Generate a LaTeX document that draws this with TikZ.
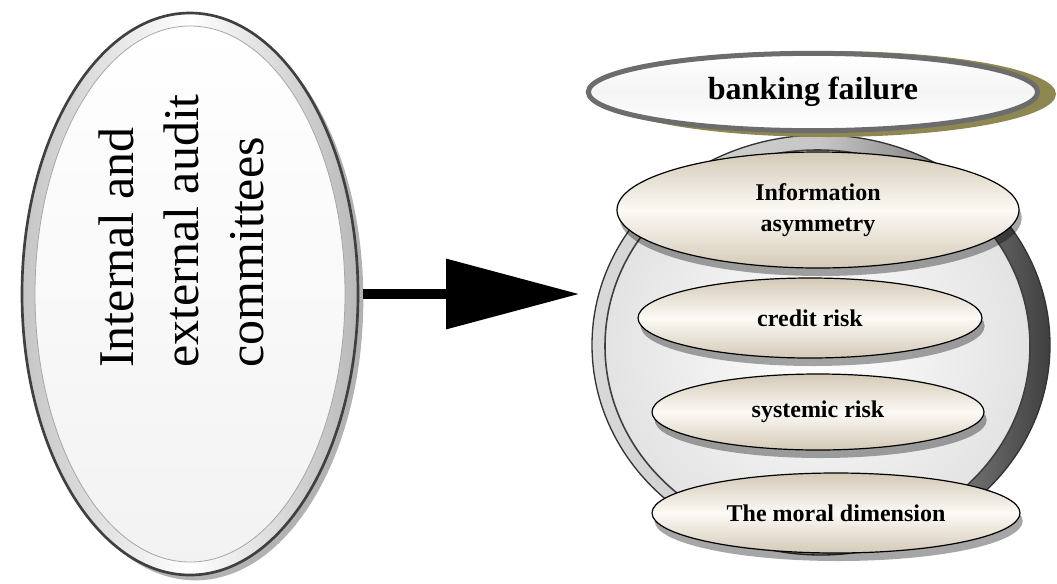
\documentclass[tikz,border=0pt]{standalone}
\usepackage{fontspec}
\setmainfont{Liberation Serif}
\usetikzlibrary{shapes.geometric,shadows,arrows.meta,calc}
\definecolor{beigeD}{HTML}{D4C9B6}
\definecolor{beigeL}{HTML}{FCFAF6}
\definecolor{olive}{HTML}{8F8752}
\definecolor{rimgray}{HTML}{6C6C6C}
\tikzset{
  oval/.style={ellipse, inner sep=0pt},
  item/.style={oval, draw=black, line width=0.9pt, top color=beigeD, bottom color=beigeD, middle color=beigeL,
    font=\fontsize{18pt}{23.25pt}\selectfont\bfseries, align=center,
    drop shadow={shadow xshift=2pt, shadow yshift=-6pt, opacity=0.35, fill=black}},
  bigarrow/.style={line width=7.5pt, -{Triangle[length=100pt, width=51pt]}},
}
\begin{document}
\begin{tikzpicture}[x=0.75pt, y=-0.75pt]
\useasboundingbox (0,0) rectangle (1057,583);
% left ellipse
\node[oval, minimum width=252pt, minimum height=421.5pt, draw=black!75, line width=2pt,
  left color=gray!45, right color=gray!55, middle color=white,
  drop shadow={shadow xshift=4pt, shadow yshift=-4pt, opacity=0.3, fill=black}] (L) at (190,294) {};
\node[oval, minimum width=232.5pt, minimum height=402pt, draw=gray!70, line width=0.6pt,
  top color=white, bottom color=gray!10] (Li) at (190,294) {};
\node[rotate=90, anchor=west, align=left, inner sep=0pt,
  font=\fontsize{37.5pt}{48.75pt}\selectfont] (Lt) at (181,368) {Internal and\\external audit\\committees};
% big circle
\node[oval, minimum width=343.5pt, minimum height=315pt, draw=black!80, line width=1pt,
  left color=gray!30, right color=black!75, middle color=gray!45] (C) at (821,345) {};
\node[oval, minimum width=318.75pt, minimum height=294pt, draw=black!75, line width=1.2pt,
  inner color=white, outer color=gray!22] (Ci) at (817.5,346) {};
% arrow
\draw[bigarrow, shorten <=3pt, shorten >=9pt] (L.east) -- (L.east -| C.west);
% banking failure
\fill[olive] (828,94) ellipse [x radius=228, y radius=43];
\node[oval, minimum width=337pt, minimum height=58pt, draw=rimgray, line width=3.75pt,
  top color=white, bottom color=white, middle color=gray!8,
  font=\fontsize{24pt}{28pt}\selectfont\bfseries] (B) at (813,92) {banking failure};
% items
\node[item, minimum width=301.5pt, minimum height=87pt] (I1) at (818,210) {Information\\asymmetry};
\node[item, minimum width=258pt, minimum height=60pt] (I2) at (810,318) {credit risk};
\node[item, minimum width=249pt, minimum height=57pt] (I3) at (818,412) {systemic risk};
\node[item, minimum width=276pt, minimum height=60pt] (I4) at (836,513) {The moral dimension};
\end{tikzpicture}
\end{document}
